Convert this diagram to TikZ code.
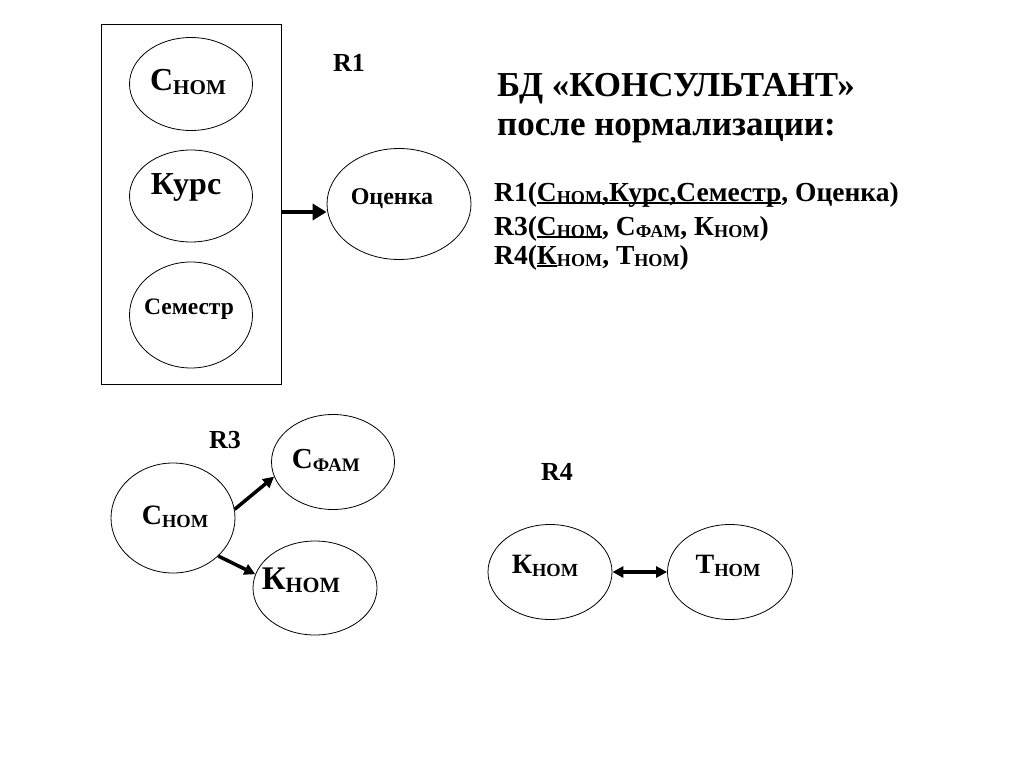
\documentclass[tikz,border=0pt]{standalone}
\usepackage{fontspec}
\setmainfont{Liberation Serif}
\usepackage{graphicx}
\usetikzlibrary{arrows.meta,shapes.geometric}

\newcommand{\lowsub}[1]{\raisebox{-0.22ex}{\scalebox{0.66}{#1}}}
\newcommand{\keyul}[1]{\setbox0\hbox{#1}\rlap{\rule[-3pt]{\wd0}{1.6pt}}\box0}

\begin{document}
\begin{tikzpicture}[x=1pt, y=-1pt,
    ell/.style={draw, ellipse, line width=0.8pt, inner sep=0pt},
    lbl/.style={inner sep=0pt, font=\fontsize{32}{36}\selectfont\bfseries},
    rel/.style={inner sep=0pt, font=\fontsize{26}{30}\selectfont\bfseries},
    head/.style={inner sep=0pt, anchor=base west, font=\fontsize{35}{40}\selectfont\bfseries},
    schema/.style={inner sep=0pt, anchor=base west, font=\fontsize{27.5}{32}\selectfont\bfseries},
    bigarr/.style={-{Triangle[length=14pt,width=16pt]}, line width=4.5pt},
    arr/.style={-{Triangle[length=11pt,width=11pt]}, line width=3.5pt},
    dblarr/.style={{Triangle[length=11pt,width=11pt]}-{Triangle[length=11pt,width=11pt]}, line width=3.5pt}
]
\useasboundingbox (0,0) rectangle (1024,768);

% R1
\node[draw, line width=0.8pt, minimum width=180pt, minimum height=360pt] (box) at (191,204) {};
\node[ell, minimum width=123pt, minimum height=93pt] (snom1) at (191,84) {};
\node[lbl] (snom1t) at (188,82) {С\lowsub{НОМ}};
\node[ell, minimum width=123pt, minimum height=92pt] (kurs) at (191,196) {};
\node[lbl] (kurst) at (186,187) {Курс};
\node[ell, minimum width=123pt, minimum height=106pt] (sem) at (191,315) {};
\node[lbl, font=\fontsize{23.5}{28}\selectfont\bfseries] (semt) at (189,309) {Семестр};
\node[ell, minimum width=144pt, minimum height=111pt] (ocen) at (399,204) {};
\node[lbl, font=\fontsize{24}{28}\selectfont\bfseries] (ocent) at (392,199) {Оценка};
\node[rel] (r1lbl) at (349,63) {R1};
\draw[bigarr] ([yshift=-8pt]box.east) -- ([yshift=-8pt]box.east -| ocen.west);

% R3
\node[rel] (r3lbl) at (225,440) {R3};
\node[ell, minimum width=124pt, minimum height=110pt] (snom3) at (173,518) {};
\node[lbl, font=\fontsize{28}{33}\selectfont\bfseries] (snom3t) at (175,517) {С\lowsub{НОМ}};
\node[ell, minimum width=123pt, minimum height=95pt] (sfam3) at (333,462) {};
\node[lbl, font=\fontsize{29}{34}\selectfont\bfseries] (sfam3t) at (326,460) {С\lowsub{ФАМ}};
\node[ell, minimum width=124pt, minimum height=94pt] (knom3) at (315,588) {};
\node[lbl, font=\fontsize{33}{38}\selectfont\bfseries] (knom3t) at (301,580) {К\lowsub{НОМ}};
\draw[arr] (snom3.8) -- (sfam3.194);
\draw[arr] (snom3.-40) -- (knom3.167);

% R4
\node[rel] (r4lbl) at (557,472) {R4};
\node[ell, minimum width=124pt, minimum height=95pt] (knom4) at (550,572) {};
\node[lbl, font=\fontsize{28}{33}\selectfont\bfseries] (knom4t) at (545,566) {К\lowsub{НОМ}};
\node[ell, minimum width=125pt, minimum height=95pt] (tnom4) at (730,572) {};
\node[lbl, font=\fontsize{28}{33}\selectfont\bfseries] (tnom4t) at (728,566) {Т\lowsub{НОМ}};
\draw[dblarr] (knom4) -- (tnom4);

% schema text
\node[head] (title1) at (497,96) {БД «КОНСУЛЬТАНТ»};
\node[head] (title2) at (497,135) {после нормализации:};
\node[schema] (rel1) at (494,201) {R1(\keyul{С\lowsub{НОМ},Курс,Семестр}, Оценка)};
\node[schema] (rel3) at (494,235) {R3(\keyul{С\lowsub{НОМ}}, С\lowsub{ФАМ}, К\lowsub{НОМ})};
\node[schema] (rel4) at (494,264) {R4(\keyul{К}\lowsub{НОМ}, Т\lowsub{НОМ})};
\end{tikzpicture}
\end{document}
